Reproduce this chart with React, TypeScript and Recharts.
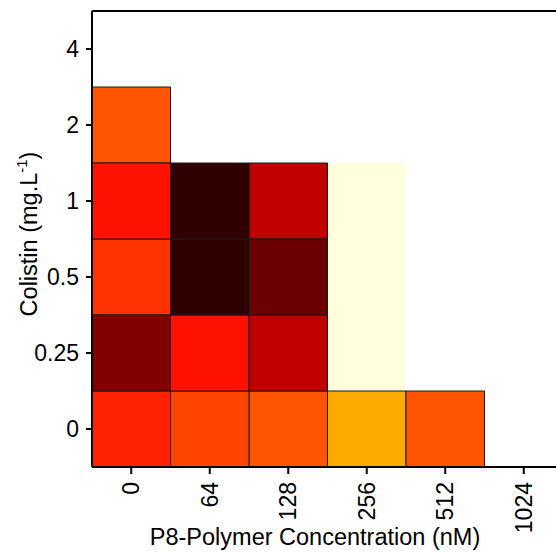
import { ScatterChart, Scatter, XAxis, YAxis, ReferenceArea, ReferenceLine } from "recharts";

// categories
const concentrations = ["0", "64", "128", "256", "512", "1024"];
const colistin = ["0", "0.25", "0.5", "1", "2", "4"];

// heat values per polymer concentration, bottom row (colistin 0) first; null = no cell
const col0 = [0.425, 0.188, 0.45, 0.4, 0.5, null];
const col64 = [0.475, 0.4, 0.071, 0.071, null, null];
const col128 = [0.5, 0.282, 0.157, 0.282, null, null];
const col256 = [0.625, 0.967, 0.967, 0.967, null, null];
const col512 = [0.5, null, null, null, null, null];
const col1024 = [null, null, null, null, null, null];

const columns = [col0, col64, col128, col256, col512, col1024];

const FONT = "Arial, 'Liberation Sans', sans-serif";

// matplotlib-like "hot" colormap
function hot(t: number) {
  const c = (v: number) => Math.round(Math.max(0, Math.min(1, v)) * 255);
  const r = c(t / 0.375);
  const g = c((t - 0.375) / 0.375);
  const b = c((t - 0.75) / 0.25);
  return `rgb(${r},${g},${b})`;
}

const cells = columns
  .flatMap((col, xi) =>
    col.map((v, yi) => ({ x: xi, y: yi, v })).filter((d) => d.v !== null)
  )
  .sort((a, b) => (b.v as number) - (a.v as number));

function XTick({ x, y, payload }: any) {
  return (
    <g transform={`translate(${x},${y})`}>
      <text
        transform="rotate(-90)"
        textAnchor="end"
        dominantBaseline="central"
        fontSize={23}
        fontFamily={FONT}
        fill="#000"
      >
        {concentrations[payload.value]}
      </text>
    </g>
  );
}

export default function App() {
  return (
    <div style={{ position: "absolute", left: 0, top: 0, width: 556, height: 552, overflow: "hidden", background: "#fff" }}>
      <ScatterChart width={600} height={552} margin={{ top: 11, right: 37, bottom: 0, left: 0 }}>
        <XAxis
          type="number"
          dataKey="x"
          domain={[-0.5, 5.5]}
          ticks={[0, 1, 2, 3, 4, 5]}
          height={85}
          tick={<XTick />}
          tickSize={7}
          tickMargin={8}
          axisLine={{ stroke: "#000", strokeWidth: 2 }}
          tickLine={{ stroke: "#000", strokeWidth: 2 }}
        />
        <YAxis
          type="number"
          dataKey="y"
          domain={[-0.5, 5.5]}
          ticks={[0, 1, 2, 3, 4, 5]}
          width={92}
          tickFormatter={(v) => colistin[v]}
          tickSize={6}
          tickMargin={7}
          tick={{ fontSize: 23, fontFamily: FONT, fill: "#000" }}
          axisLine={{ stroke: "#000", strokeWidth: 2 }}
          tickLine={{ stroke: "#000", strokeWidth: 2 }}
        />
        {cells.map((d) => (
          <ReferenceArea
            key={`${d.x}-${d.y}`}
            x1={d.x - 0.5}
            x2={d.x + 0.5}
            y1={d.y - 0.5}
            y2={d.y + 0.5}
            fill={hot(d.v as number)}
            fillOpacity={1}
            stroke={(d.v as number) > 0.9 ? "none" : "#1a1a1a"}
            strokeWidth={1}
            ifOverflow="visible"
          />
        ))}
        <ReferenceLine y={5.5} stroke="#000" strokeWidth={2} />
        <Scatter data={cells} shape={() => null} isAnimationActive={false} />
        <text x={315} y={545} textAnchor="middle" fontSize={23.5} fontFamily={FONT} fill="#000">
          P8-Polymer Concentration (nM)
        </text>
        <text
          transform="translate(37,234) rotate(-90)"
          textAnchor="middle"
          fontSize={23.5}
          fontFamily={FONT}
          fill="#000"
        >
          Colistin (mg.L
          <tspan fontSize={15} dy={-10}>-1</tspan>
          <tspan dy={10}>)</tspan>
        </text>
      </ScatterChart>
    </div>
  );
}
